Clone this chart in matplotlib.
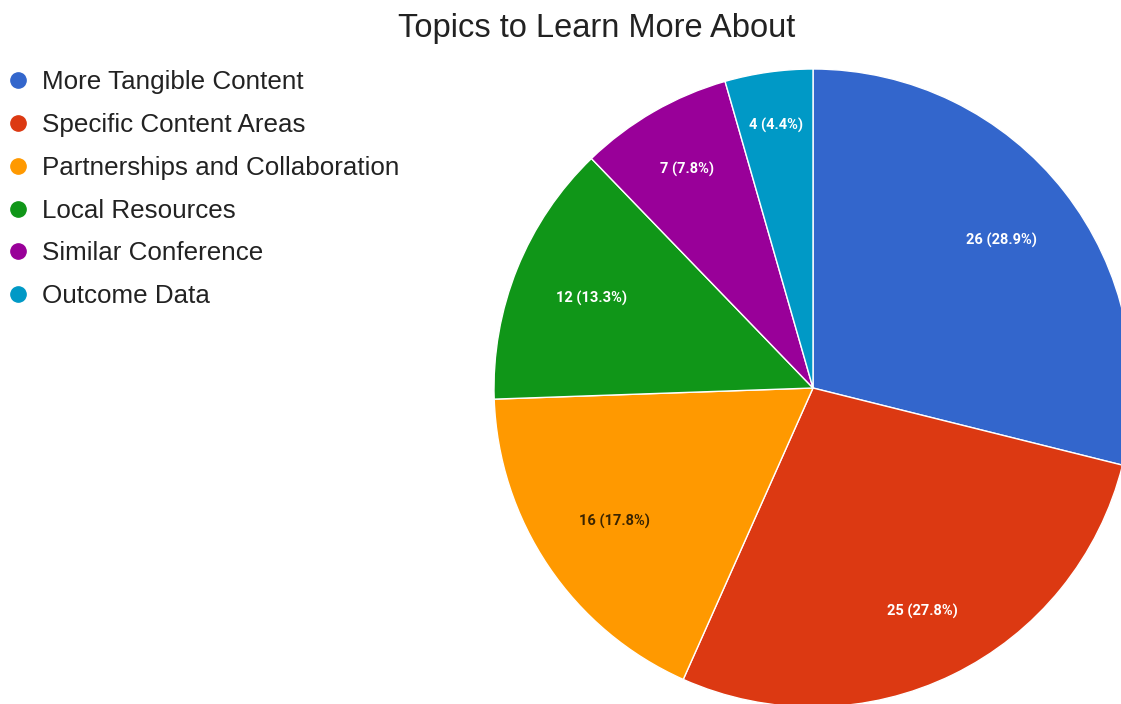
import numpy as np
import matplotlib
matplotlib.use("Agg")
import matplotlib.pyplot as plt
from matplotlib.lines import Line2D

plt.rcParams['font.family'] = ['Liberation Sans', 'DejaVu Sans']

categories = ["More Tangible Content", "Specific Content Areas", "Partnerships and Collaboration",
              "Local Resources", "Similar Conference", "Outcome Data"]
values = [26, 25, 16, 12, 7, 4]
colors = ["#3366cc", "#dc3912", "#ff9900", "#109618", "#990099", "#0099c6"]
label_colors = ["white", "white", "#3a2400", "white", "white", "white"]
label_dist = [0.75, 0.78, 0.75, 0.75, 0.79, 0.83]
title = "Topics to Learn More About"

W, H = 1121, 704
fig = plt.figure(figsize=(W / 100, H / 100), dpi=100)
ax = fig.add_axes([0, 0, 1, 1])
ax.axis('off')

total = sum(values)
def fmt(p):
    n = round(p * total / 100)
    return f"{n} ({p:.1f}%)"

cx, cy, R = 813, H - 388, 319
wedges, texts, autotexts = ax.pie(values, colors=colors, startangle=90, counterclock=False,
                                  center=(cx, cy), radius=R, autopct=fmt, pctdistance=0.77,
                                  wedgeprops=dict(edgecolor='white', linewidth=1),
                                  textprops=dict(fontsize=10.5, fontweight='bold', family=['Roboto']))
for w, t, c, d in zip(wedges, autotexts, label_colors, label_dist):
    t.set_color(c)
    ang = np.deg2rad((w.theta1 + w.theta2) / 2)
    t.set_position((cx + d * R * np.cos(ang), cy + d * R * np.sin(ang)))
ax.set_xlim(0, W)
ax.set_ylim(0, H)
ax.set_aspect('equal')

fig.text(597 / W, 1 - 29 / H, title, ha='center', va='center', fontsize=23.5, color='#222222')

handles = [Line2D([0], [0], marker='o', linestyle='', markersize=11, markerfacecolor=c,
                  markeredgecolor=c) for c in colors]
leg = fig.legend(handles, categories, loc='upper left', bbox_to_anchor=(6 / W, 1 - 70.5 / H),
                 frameon=False, fontsize=18.7, labelspacing=0.72, handletextpad=0.48,
                 handlelength=0.9, borderaxespad=0, borderpad=0)
for t in leg.get_texts():
    t.set_color('#222222')

fig.savefig("out.png", dpi=100)
